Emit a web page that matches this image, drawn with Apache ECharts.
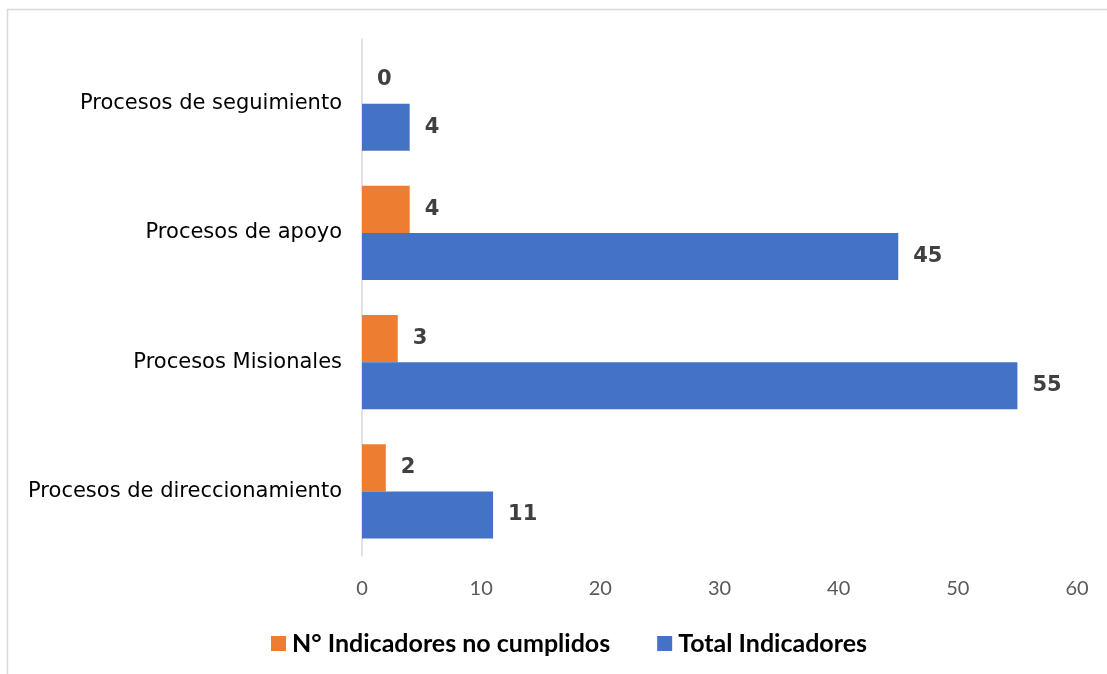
<!DOCTYPE html>
<html>
<head>
<meta charset="utf-8">
<script src="https://cdn.jsdelivr.net/npm/echarts@6/dist/echarts.min.js"></script>
<style>
  html, body { margin: 0; padding: 0; background: #fff; }
  #chart { width: 1107px; height: 674px; }
</style>
</head>
<body>
<div id="chart"></div>
<script>
// Process groups, listed from the bottom of the axis upwards
const categories = [
  'Procesos de direccionamiento',
  'Procesos Misionales',
  'Procesos de apoyo',
  'Procesos de seguimiento'
];
const noCumplidos = [2, 3, 4, 0];
const totalIndicadores = [11, 55, 45, 4];
const seriesNames = ['N° Indicadores no cumplidos', 'Total Indicadores'];
const xTicks = { min: 0, max: 60, interval: 10 };

const chart = echarts.init(document.getElementById('chart'), null, { renderer: 'canvas' });

const valueLabel = {
  show: true,
  position: 'right',
  distance: 15,
  fontFamily: 'DejaVu Sans',
  fontWeight: 'bold',
  fontSize: 21,
  color: '#404040'
};

chart.setOption({
  backgroundColor: '#ffffff',
  animation: false,
  graphic: [{
    type: 'rect',
    shape: { x: 7.5, y: 9.5, width: 1110, height: 680 },
    style: { fill: 'none', stroke: '#d9d9d9', lineWidth: 1.5 },
    silent: true,
    z: -10
  }],
  grid: { left: 362, right: 30, top: 39, bottom: 118, containLabel: false },
  legend: {
    data: seriesNames,
    left: 266,
    top: 626,
    itemWidth: 15,
    itemHeight: 15,
    itemGap: 47,
    icon: 'rect',
    textStyle: { fontFamily: 'Lato', fontWeight: 'bold', fontSize: 25, color: '#000000', padding: [0, 0, 0, 1] }
  },
  xAxis: {
    type: 'value',
    min: xTicks.min,
    max: xTicks.max,
    interval: xTicks.interval,
    axisLine: { show: false },
    axisTick: { show: false },
    splitLine: { show: false },
    axisLabel: { fontFamily: 'Lato', fontSize: 20, color: '#595959', margin: 23 }
  },
  yAxis: {
    type: 'category',
    data: categories,
    axisLine: { show: true, lineStyle: { color: '#d9d9d9', width: 1.5 } },
    axisTick: { show: false },
    axisLabel: { fontFamily: 'DejaVu Sans', fontSize: 21, color: '#000000', margin: 20 }
  },
  series: [
    {
      name: seriesNames[0],
      type: 'bar',
      data: noCumplidos,
      barGap: '0%',
      barCategoryGap: '27%',
      itemStyle: { color: '#ED7D31' },
      label: valueLabel
    },
    {
      name: seriesNames[1],
      type: 'bar',
      data: totalIndicadores,
      barGap: '0%',
      barCategoryGap: '27%',
      itemStyle: { color: '#4472C4' },
      label: valueLabel
    }
  ]
});
</script>
</body>
</html>
